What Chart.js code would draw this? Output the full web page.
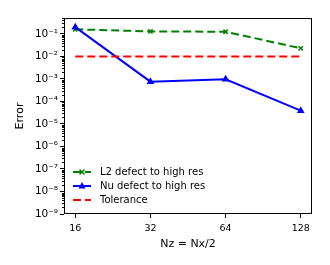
<!DOCTYPE html>
<html>
<head>
<meta charset="utf-8">
<script src="https://cdn.jsdelivr.net/npm/chart.js@4.4.1/dist/chart.umd.min.js"></script>
<style>
  html, body { margin: 0; padding: 0; background: #fff; }
  #wrap { width: 330px; height: 265px; }
</style>
</head>
<body>
<div id="wrap"><canvas id="myChart" width="330" height="265"></canvas></div>
<script>
// * Data
const nz = [16, 32, 64, 128];
const l2Defect = [0.16, 0.13, 0.125, 0.023];
const nuDefect = [0.2, 7.6e-4, 9.7e-4, 3.9e-5];
const tolerance = [1e-2, 1e-2, 1e-2, 1e-2];
const yDecades = [-9, -8, -7, -6, -5, -4, -3, -2, -1];

const FONT = "'DejaVu Sans', sans-serif";
const SUP = { "-": "\u207B", "0": "\u2070", "1": "\u00B9", "2": "\u00B2", "3": "\u00B3",
  "4": "\u2074", "5": "\u2075", "6": "\u2076", "7": "\u2077", "8": "\u2078", "9": "\u2079" };
const sup = (n) => String(n).split("").map((c) => SUP[c]).join("");

const toPoints = (ys) => nz.map((x, i) => ({ x: x, y: ys[i] }));

// * Box round the plot area + minor ticks on the log y axis
const framePlugin = {
    id: "frame",
    afterDraw(chart) {
        const { ctx, chartArea: a, scales } = chart;
        ctx.save();
        ctx.strokeStyle = "#000";
        ctx.lineWidth = 1;
        ctx.strokeRect(a.left + 0.5, a.top + 0.5, a.right - a.left - 1, a.bottom - a.top - 1);
        const y = scales.y;
        ctx.beginPath();
        for (let d = -9; d <= 0; d++) {
            for (let k = 2; k <= 9; k++) {
                const v = k * Math.pow(10, d);
                if (v > y.max) continue;
                const py = Math.round(y.getPixelForValue(v)) + 0.5;
                ctx.moveTo(a.left - 2, py);
                ctx.lineTo(a.left, py);
            }
        }
        ctx.stroke();
        ctx.restore();
    },
};

// * Legend drawn inside the plot, lower left
const legendPlugin = {
    id: "innerLegend",
    afterDraw(chart) {
        const { ctx, chartArea: a } = chart;
        const x0 = a.left + 9, x1 = a.left + 27, tx = a.left + 36;
        let y = 172;
        ctx.save();
        ctx.font = "10px " + FONT;
        ctx.textBaseline = "middle";
        chart.data.datasets.forEach((ds) => {
            ctx.strokeStyle = ds.borderColor;
            ctx.lineWidth = ds.borderWidth;
            ctx.setLineDash(ds.borderDash || []);
            ctx.beginPath();
            ctx.moveTo(x0, y);
            ctx.lineTo(x1, y);
            ctx.stroke();
            ctx.setLineDash([]);
            const cx = (x0 + x1) / 2;
            if (ds.pointStyle === "triangle") {
                ctx.fillStyle = ds.borderColor;
                ctx.beginPath();
                ctx.moveTo(cx, y - 4);
                ctx.lineTo(cx + 3.5, y + 2.5);
                ctx.lineTo(cx - 3.5, y + 2.5);
                ctx.closePath();
                ctx.fill();
            } else if (ds.pointStyle === "crossRot") {
                ctx.lineWidth = 1.5;
                ctx.beginPath();
                ctx.moveTo(cx - 2.5, y - 2.5); ctx.lineTo(cx + 2.5, y + 2.5);
                ctx.moveTo(cx + 2.5, y - 2.5); ctx.lineTo(cx - 2.5, y + 2.5);
                ctx.stroke();
            }
            ctx.fillStyle = "#000";
            ctx.fillText(ds.label, tx, y);
            y += 14;
        });
        ctx.restore();
    },
};

const ctx = document.getElementById("myChart").getContext("2d");

const config = {
    type: "line",
    data: {
        datasets: [
            {
                label: "L2 defect to high res",
                data: toPoints(l2Defect),
                borderColor: "#008000",
                backgroundColor: "#008000",
                borderWidth: 2,
                borderDash: [8, 4],
                pointStyle: "crossRot",
                pointRadius: 3,
                pointBorderWidth: 1.5,
                order: 3,
            },
            {
                label: "Nu defect to high res",
                data: toPoints(nuDefect),
                borderColor: "#0000ff",
                backgroundColor: "#0000ff",
                borderWidth: 2,
                pointStyle: "triangle",
                pointRadius: 4.5,
                pointBorderWidth: 0,
                order: 2,
            },
            {
                label: "Tolerance",
                data: toPoints(tolerance),
                borderColor: "#ff0000",
                backgroundColor: "#ff0000",
                borderWidth: 2,
                borderDash: [8, 4],
                pointRadius: 0,
                order: 1,
            },
        ],
    },
    options: {
        responsive: false,
        animation: false,
        events: [],
        layout: { padding: { left: 8, top: 18, right: 18, bottom: 12 } },
        plugins: { legend: false, tooltip: { enabled: false } },
        scales: {
            x: {
                type: "logarithmic",
                min: 14.42,
                max: 142,
                afterBuildTicks: (scale) => {
                    scale.ticks = nz.map((v) => ({ value: v }));
                },
                afterFit: (scale) => { scale.height = 265 - 214 - 12; },
                ticks: {
                    color: "#000",
                    font: { family: FONT, size: 9.5 },
                    padding: 5,
                    maxRotation: 0,
                    autoSkip: false,
                    callback: (v) => String(v),
                },
                grid: { drawOnChartArea: false, tickLength: 4, color: "#000", tickColor: "#000" },
                border: { display: false },
                title: {
                    display: true,
                    text: "Nz = Nx/2",
                    color: "#000",
                    font: { family: FONT, size: 11 },
                    padding: { top: 0, bottom: 2 },
                },
            },
            y: {
                type: "logarithmic",
                min: 1e-9,
                max: 0.51,
                afterBuildTicks: (scale) => {
                    scale.ticks = yDecades.map((d) => ({ value: Math.pow(10, d) }));
                },
                afterFit: (scale) => { scale.width = 64 - 8; },
                ticks: {
                    color: "#000",
                    font: { family: FONT, size: 10.5 },
                    padding: 2,
                    autoSkip: false,
                    callback: (v) => "10" + sup(Math.round(Math.log10(v))),
                },
                grid: { drawOnChartArea: false, tickLength: 4, color: "#000", tickColor: "#000" },
                border: { display: false },
                title: {
                    display: true,
                    text: "Error",
                    color: "#000",
                    font: { family: FONT, size: 11 },
                    padding: { top: 6, bottom: 0 },
                },
            },
        },
    },
    plugins: [framePlugin, legendPlugin],
};

const chart = new Chart(ctx, config);
</script>
</body>
</html>
